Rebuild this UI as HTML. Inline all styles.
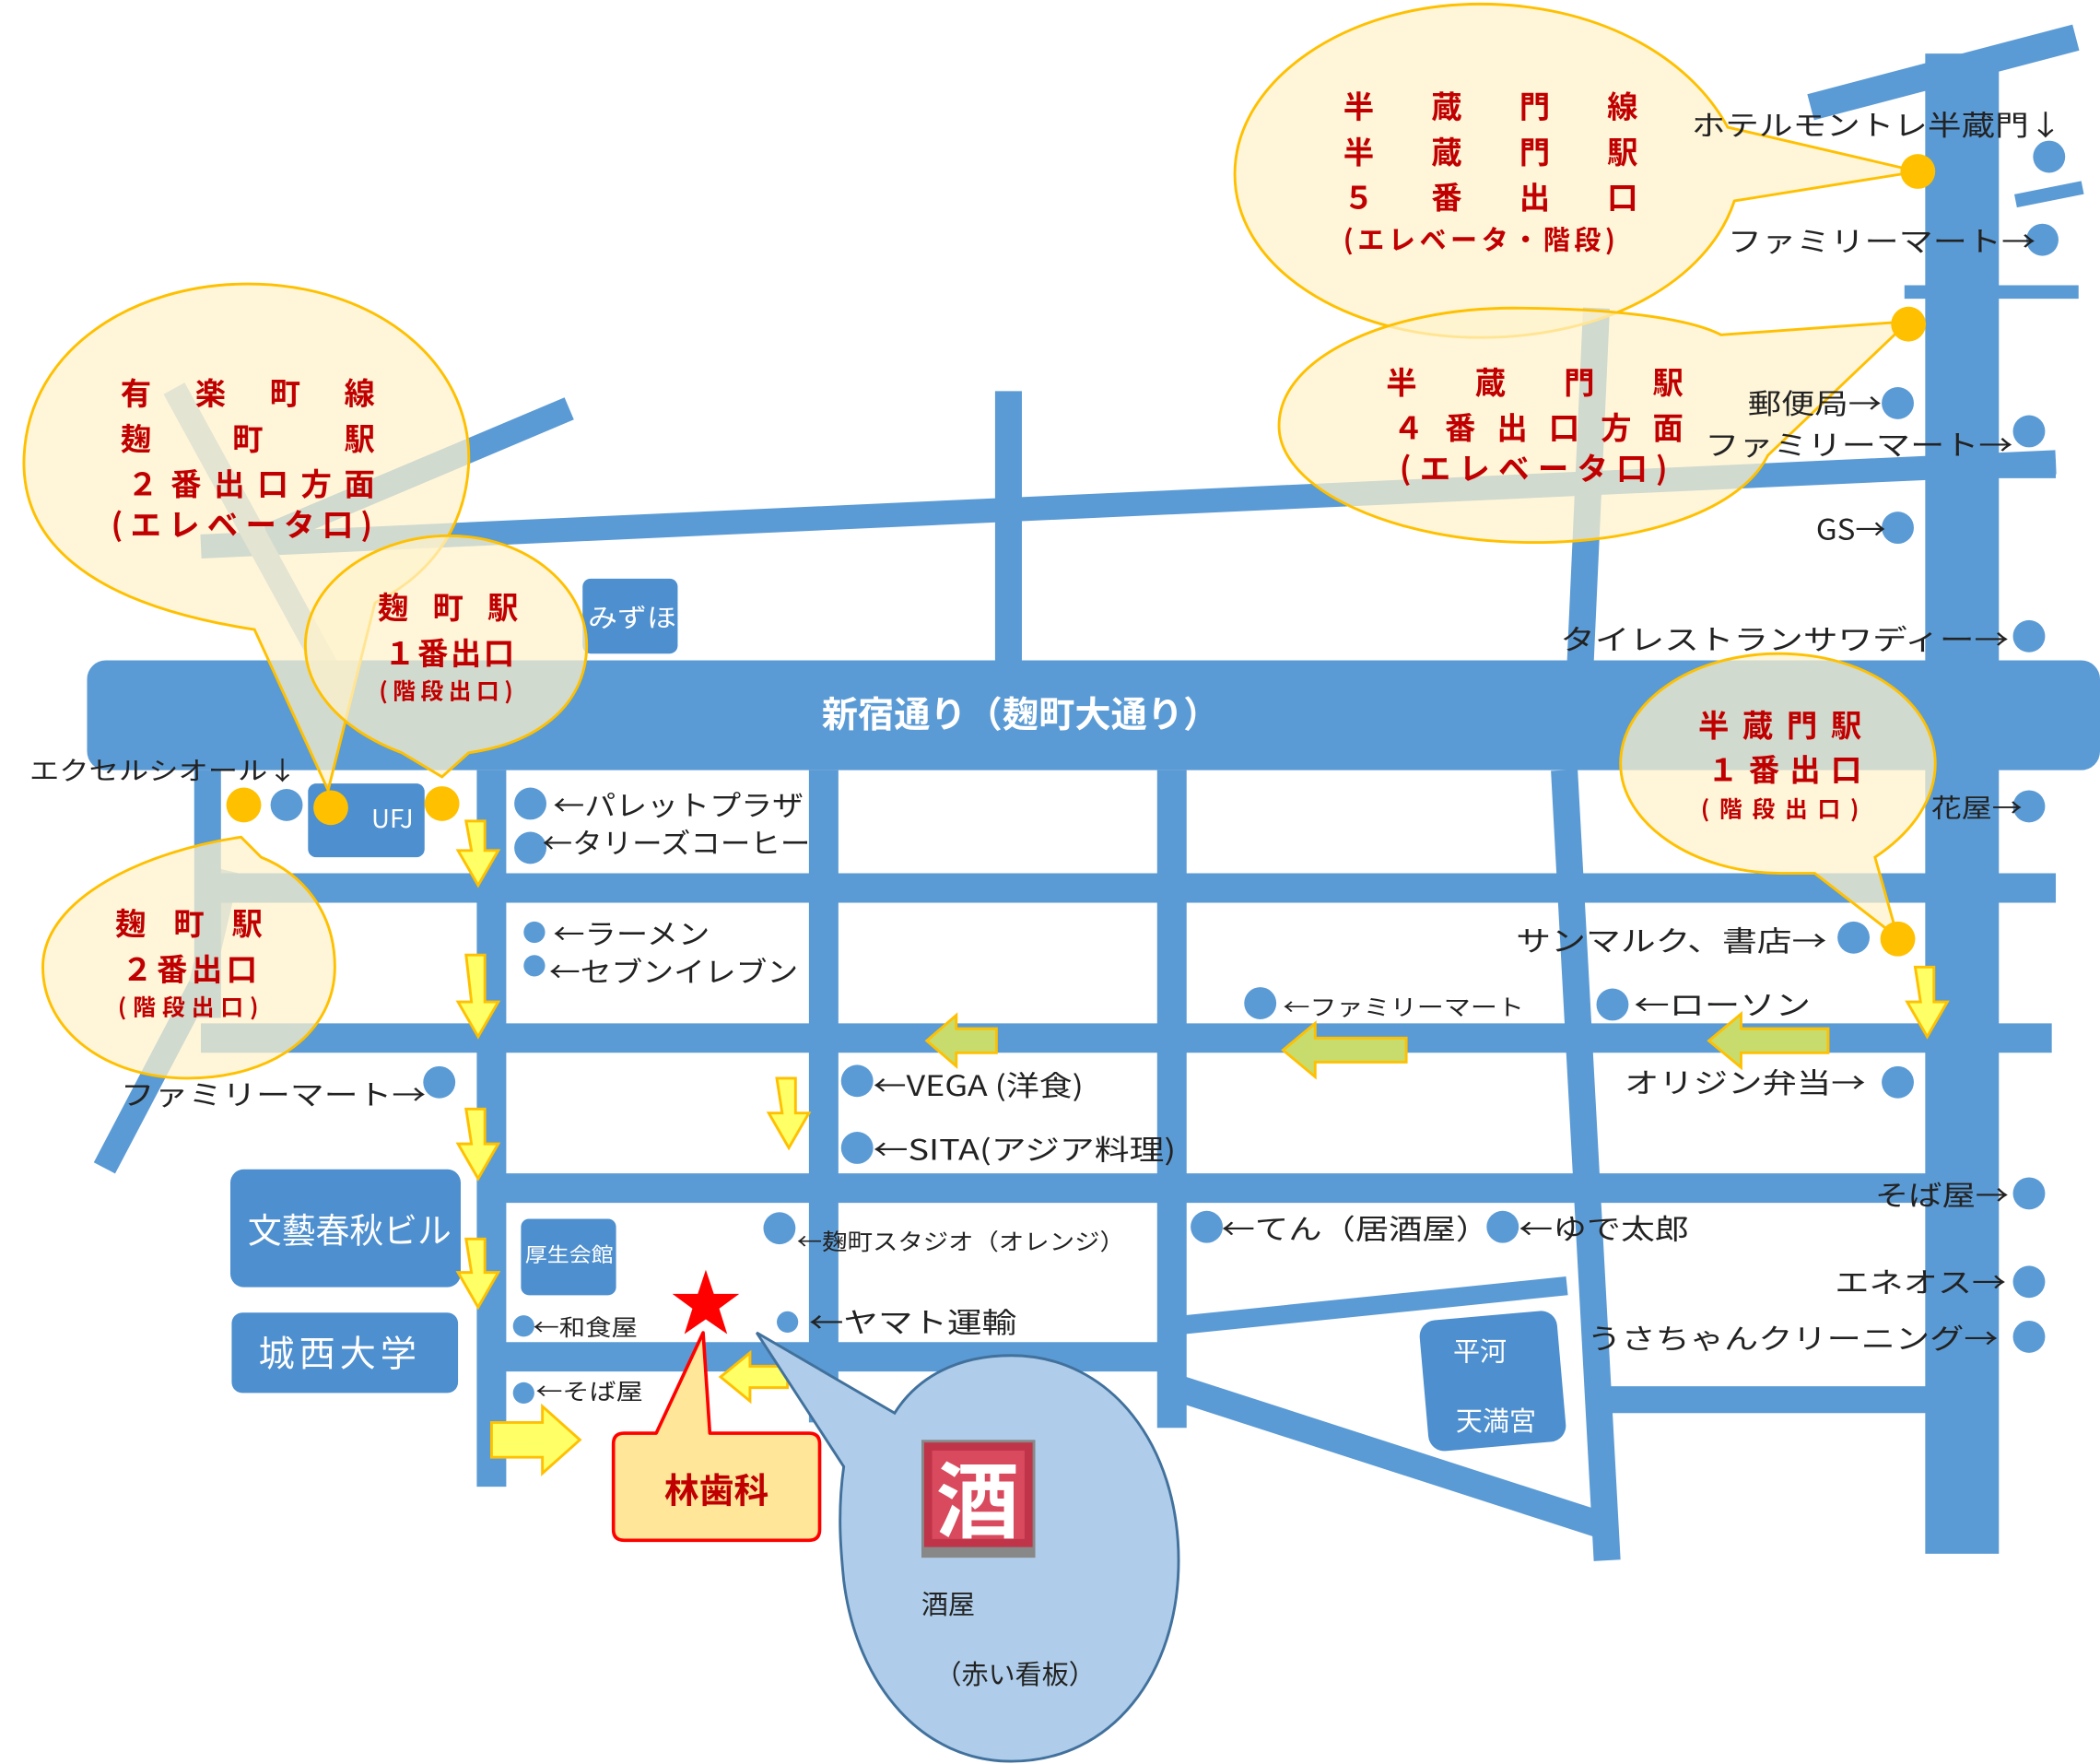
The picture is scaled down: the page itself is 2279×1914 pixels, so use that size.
<!DOCTYPE html>
<html><head><meta charset="utf-8"><style>
html,body{margin:0;padding:0;background:#fff;width:2279px;height:1914px;overflow:hidden}
svg{display:block}
text{font-family:"Noto Sans CJK JP","Liberation Sans",sans-serif}
.l{font-size:21px;fill:#222}
.s{font-size:17px;fill:#222}
.red{fill:#c00000;font-weight:bold}
.bal{fill:#fff2cc;fill-opacity:.72;stroke:#ffc000;stroke-width:2}
.arr{fill:#ffff66;stroke:#ffc000;stroke-width:2}
.harr{fill:#c8dc6e;stroke:#ffc000;stroke-width:2}
.dot{fill:#5b9bd5}
.yd{fill:#ffc000}
.bld{fill:#4d8fcf}
.w{fill:#fff}
</style></head><body>
<svg width="2279" height="1914" viewBox="0 0 1568 1317" preserveAspectRatio="none" xmlns="http://www.w3.org/2000/svg">
<rect width="1568" height="1317" fill="#fff"/>
<g stroke="#5b9bd5" stroke-linecap="butt" fill="none">
<line x1="150" y1="408" x2="1535" y2="345" stroke-width="18"/>
<line x1="200" y1="400" x2="425" y2="305" stroke-width="18"/>
<line x1="130" y1="290" x2="245" y2="500" stroke-width="18" stroke="#9bbfdf"/>
<line x1="78" y1="872" x2="150" y2="735" stroke-width="18"/>
<line x1="150" y1="735" x2="170" y2="650" stroke-width="18" stroke="#9bbfdf"/>
<line x1="753" y1="292" x2="753" y2="495" stroke-width="20"/>
<line x1="1192" y1="230" x2="1180" y2="495" stroke-width="20"/>
<line x1="1465" y1="40" x2="1465" y2="1160" stroke-width="55"/>
<line x1="1352" y1="80" x2="1550" y2="28" stroke-width="20"/>
<line x1="1505" y1="150" x2="1555" y2="140" stroke-width="10"/>
<line x1="1422" y1="218" x2="1552" y2="218" stroke-width="10"/>
<line x1="1440" y1="350" x2="1535" y2="350" stroke-width="14"/>
<line x1="150" y1="663" x2="1535" y2="663" stroke-width="22"/>
<line x1="150" y1="775" x2="1532" y2="775" stroke-width="22"/>
<line x1="367" y1="887" x2="1492" y2="887" stroke-width="22"/>
<line x1="367" y1="1013" x2="875" y2="1013" stroke-width="22"/>
<line x1="1190" y1="1045" x2="1492" y2="1045" stroke-width="20"/>
<line x1="155" y1="575" x2="155" y2="760" stroke-width="20"/>
<line x1="367" y1="575" x2="367" y2="1110" stroke-width="22"/>
<line x1="615" y1="575" x2="615" y2="1062" stroke-width="22"/>
<line x1="875" y1="575" x2="875" y2="1066" stroke-width="22"/>
<line x1="1168" y1="575" x2="1200" y2="1165" stroke-width="20"/>
<line x1="875" y1="1035" x2="1200" y2="1140" stroke-width="20"/>
<line x1="875" y1="990" x2="1170" y2="960" stroke-width="14"/>
</g>
<rect fill="#5b9bd5" x="65" y="493" width="1503" height="82" rx="14"/>
<text x="762" y="543" text-anchor="middle" font-size="27" font-weight="bold" fill="#fff">新宿通り（麹町大通り）</text>
<rect class="bld" x="435" y="432" width="71" height="56" rx="6"/><text x="439" y="468" font-size="19" class="w" textLength="66" lengthAdjust="spacingAndGlyphs">みずほ</text>
<rect class="bld" x="230" y="585" width="87" height="55" rx="6"/><text x="293" y="618" text-anchor="middle" font-size="19" class="w">UFJ</text>
<rect class="bld" x="172" y="873" width="172" height="88" rx="10"/><text x="185" y="928" font-size="26" class="w" textLength="152" lengthAdjust="spacingAndGlyphs">文藝春秋ビル</text>
<rect class="bld" x="173" y="980" width="169" height="60" rx="8"/><text x="193" y="1020" font-size="27" class="w" textLength="118">城西大学</text>
<rect class="bld" x="389" y="910" width="71" height="57" rx="6"/><text x="392" y="942" font-size="15" class="w" textLength="66" lengthAdjust="spacingAndGlyphs">厚生会館</text>
<rect class="bld" x="1063" y="982" width="103" height="98" rx="12" transform="rotate(-5 1115 1030)"/>
<text x="1105" y="1016" text-anchor="middle" font-size="20" class="w">平河</text>
<text x="1117" y="1068" text-anchor="middle" font-size="20" class="w">天満宮</text>
<path class="bal" d="M190,470 C60,450 15,400 18,340 C22,260 100,212 185,212 C280,212 352,270 350,345 C348,395 320,430 280,450 L245,590 Z"/>
<path class="bal" d="M330,580 L300,562 C255,545 228,515 228,482 C228,435 280,400 335,400 C395,400 440,440 438,485 C436,528 400,555 350,562 Z"/>
<path class="bal" d="M180,625 C110,635 32,670 32,722 C32,770 80,805 140,805 C205,805 250,770 250,722 C250,680 225,652 195,640 Z"/>
<path class="bal" d="M1295,150 L1432,128 L1290,95 C1260,40 1190,3 1105,3 C1005,3 922,60 922,130 C922,200 1005,252 1105,252 C1200,252 1275,210 1295,150 Z"/>
<path class="bal" d="M1285,250 L1425,240 L1320,340 C1300,380 1230,405 1145,405 C1040,405 955,365 955,318 C955,265 1040,230 1130,230 C1200,230 1260,237 1285,250 Z"/>
<path class="bal" d="M1355,652 L1417,700 L1400,640 C1430,620 1445,595 1445,570 C1445,525 1395,488 1328,488 C1262,488 1210,525 1210,570 C1210,615 1265,652 1330,652 Z"/>
<g font-size="23" class="red">
<text x="90" y="302" textLength="190" lengthAdjust="spacing">有楽町線</text>
<text x="90" y="336" textLength="190" lengthAdjust="spacing">麹町駅</text>
<text x="95" y="370" textLength="185" lengthAdjust="spacing">２番出口方面</text>
<text x="83" y="400" textLength="195" lengthAdjust="spacing">(エレベータ口)</text>
<text x="282" y="462" textLength="105" lengthAdjust="spacing">麹町駅</text>
<text x="287" y="496" textLength="97" lengthAdjust="spacing">１番出口</text>
<text x="283" y="522" font-size="17" textLength="100" lengthAdjust="spacing">(階段出口)</text>
<text x="86" y="698" textLength="110" lengthAdjust="spacing">麹町駅</text>
<text x="91" y="732" textLength="101" lengthAdjust="spacing">２番出口</text>
<text x="88" y="758" font-size="17" textLength="105" lengthAdjust="spacing">(階段出口)</text>
<text x="1003" y="88" textLength="220" lengthAdjust="spacing">半蔵門線</text>
<text x="1003" y="122" textLength="220" lengthAdjust="spacing">半蔵門駅</text>
<text x="1003" y="156" textLength="220" lengthAdjust="spacing">５番出口</text>
<text x="1003" y="186" font-size="20" textLength="203" lengthAdjust="spacing">(エレベータ・階段)</text>
<text x="1035" y="294" textLength="222" lengthAdjust="spacing">半蔵門駅</text>
<text x="1040" y="328" textLength="217" lengthAdjust="spacing">４番出口方面</text>
<text x="1045" y="358" textLength="200" lengthAdjust="spacing">(エレベータ口)</text>
<text x="1268" y="550" textLength="122" lengthAdjust="spacing">半蔵門駅</text>
<text x="1275" y="583" textLength="115" lengthAdjust="spacing">１番出口</text>
<text x="1270" y="610" font-size="17" textLength="118" lengthAdjust="spacing">(階段出口)</text>
</g>
<g>
<circle class="yd" cx="182" cy="601" r="13"/><circle class="dot" cx="214" cy="601" r="12"/><circle class="yd" cx="247" cy="603" r="13"/><circle class="yd" cx="330" cy="600" r="13"/>
<circle class="yd" cx="1432" cy="128" r="13"/><circle class="yd" cx="1425" cy="242" r="13"/><circle class="yd" cx="1417" cy="701" r="13"/>
<circle class="dot" cx="396" cy="600" r="12"/><circle class="dot" cx="396" cy="633" r="12"/>
<circle class="dot" cx="399" cy="696" r="8"/><circle class="dot" cx="399" cy="721" r="8"/>
<circle class="dot" cx="328" cy="808" r="12"/>
<circle class="dot" cx="640" cy="807" r="12"/><circle class="dot" cx="640" cy="857" r="12"/>
<circle class="dot" cx="582" cy="917" r="12"/><circle class="dot" cx="588" cy="987" r="8"/>
<circle class="dot" cx="391" cy="990" r="8"/><circle class="dot" cx="391" cy="1040" r="8"/>
<circle class="dot" cx="941" cy="749" r="12"/><circle class="dot" cx="1204" cy="750" r="12"/>
<circle class="dot" cx="901" cy="916" r="12"/><circle class="dot" cx="1122" cy="916" r="12"/>
<circle class="dot" cx="1530" cy="117" r="12"/><circle class="dot" cx="1525" cy="179" r="12"/>
<circle class="dot" cx="1417" cy="301" r="12"/><circle class="dot" cx="1515" cy="322" r="12"/>
<circle class="dot" cx="1417" cy="394" r="12"/><circle class="dot" cx="1515" cy="475" r="12"/>
<circle class="dot" cx="1515" cy="602" r="12"/><circle class="dot" cx="1384" cy="700" r="12"/>
<circle class="dot" cx="1417" cy="808" r="12"/><circle class="dot" cx="1515" cy="891" r="12"/>
<circle class="dot" cx="1515" cy="957" r="12"/><circle class="dot" cx="1515" cy="998" r="12"/>
</g>
<g class="l">
<text x="22" y="582" font-size="19" textLength="200" lengthAdjust="spacingAndGlyphs">エクセルシオール↓</text>
<text x="413" y="609" textLength="187" lengthAdjust="spacingAndGlyphs">←パレットプラザ</text>
<text x="405" y="637" textLength="200" lengthAdjust="spacingAndGlyphs">←タリーズコーヒー</text>
<text x="413" y="705" textLength="117" lengthAdjust="spacingAndGlyphs">←ラーメン</text>
<text x="410" y="733" textLength="186" lengthAdjust="spacingAndGlyphs">←セブンイレブン</text>
<text x="90" y="825" textLength="228" lengthAdjust="spacingAndGlyphs">ファミリーマート→</text>
<text x="652" y="818" textLength="157" lengthAdjust="spacingAndGlyphs">←VEGA (洋食)</text>
<text x="652" y="866" textLength="226" lengthAdjust="spacingAndGlyphs">←SITA(アジア料理)</text>
<text x="595" y="933" class="s" textLength="245" lengthAdjust="spacingAndGlyphs">←麹町スタジオ（オレンジ）</text>
<text x="604" y="995" textLength="155" lengthAdjust="spacingAndGlyphs">←ヤマト運輸</text>
<text x="398" y="997" class="s" textLength="78" lengthAdjust="spacingAndGlyphs">←和食屋</text>
<text x="400" y="1045" class="s" textLength="80" lengthAdjust="spacingAndGlyphs">←そば屋</text>
<text x="958" y="758" class="s" textLength="180" lengthAdjust="spacingAndGlyphs">←ファミリーマート</text>
<text x="1220" y="758" textLength="132" lengthAdjust="spacingAndGlyphs">←ローソン</text>
<text x="912" y="925" textLength="200" lengthAdjust="spacingAndGlyphs">←てん（居酒屋）</text>
<text x="1134" y="925" textLength="127" lengthAdjust="spacingAndGlyphs">←ゆで太郎</text>
<text x="1263" y="101" textLength="277" lengthAdjust="spacingAndGlyphs">ホテルモントレ半蔵門↓</text>
<text x="1290" y="188" textLength="230" lengthAdjust="spacingAndGlyphs">ファミリーマート→</text>
<text x="1305" y="309" textLength="100" lengthAdjust="spacingAndGlyphs">郵便局→</text>
<text x="1273" y="340" textLength="230" lengthAdjust="spacingAndGlyphs">ファミリーマート→</text>
<text x="1356" y="403" textLength="52" lengthAdjust="spacingAndGlyphs">GS→</text>
<text x="1165" y="485" textLength="335" lengthAdjust="spacingAndGlyphs">タイレストランサワディー→</text>
<text x="1442" y="610" font-size="19" textLength="68" lengthAdjust="spacingAndGlyphs">花屋→</text>
<text x="1132" y="710" textLength="232" lengthAdjust="spacingAndGlyphs">サンマルク、書店→</text>
<text x="1213" y="816" textLength="180" lengthAdjust="spacingAndGlyphs">オリジン弁当→</text>
<text x="1400" y="900" textLength="100" lengthAdjust="spacingAndGlyphs">そば屋→</text>
<text x="1370" y="965" textLength="128" lengthAdjust="spacingAndGlyphs">エネオス→</text>
<text x="1185" y="1007" textLength="307" lengthAdjust="spacingAndGlyphs">うさちゃんクリーニング→</text>
</g>
<g class="arr">
<path d="M348,613 h14 v22 h10 l-15,26 l-15,-26 h10 z"/>
<path d="M348,713 h14 v35 h10 l-15,26 l-15,-26 h10 z"/>
<path d="M348,828 h14 v26 h10 l-15,26 l-15,-26 h10 z"/>
<path d="M348,925 h14 v25 h10 l-15,26 l-15,-26 h10 z"/>
<path d="M580,805 h14 v26 h10 l-15,26 l-15,-26 h10 z"/>
<path d="M1430,722 h14 v26 h10 l-15,26 l-15,-26 h10 z"/>
<path d="M367,1062 h38 v-12 l28,25 l-28,25 v-12 h-38 z"/>
<path d="M588,1020 v16 h-28 v10 l-22,-18 l22,-18 v10 z"/>
</g>
<g class="harr">
<path d="M744,768 v18 h-30 v10 l-22,-19 l22,-19 v10 z"/>
<path d="M1050,775 v18 h-68 v11 l-24,-20 l24,-20 v11 z"/>
<path d="M1365,768 v18 h-65 v11 l-24,-20 l24,-20 v11 z"/>
</g>
<path d="M668,1055 L565,995 L630,1095 C625,1130 628,1160 630,1180 C640,1260 690,1315 755,1315 C830,1315 880,1250 880,1165 C880,1080 830,1012 755,1012 C715,1012 685,1028 668,1055 Z" fill="#afcdea" stroke="#41719c" stroke-width="2"/>
<rect x="688" y="1075" width="85" height="88" fill="#888"/>
<rect x="690" y="1077" width="81" height="78" fill="#c0344a"/>
<rect x="696" y="1083" width="69" height="66" fill="#d94a5e"/>
<text x="730" y="1143" text-anchor="middle" font-size="62" fill="#fff" font-weight="bold">酒</text>
<text x="688" y="1205" font-size="20" fill="#222">酒屋</text>
<text x="698" y="1257" font-size="20" fill="#222">（赤い看板）</text>
<path d="M525,995 L490,1070 L466,1070 Q458,1070 458,1078 L458,1142 Q458,1150 466,1150 L604,1150 Q612,1150 612,1142 L612,1078 Q612,1070 604,1070 L530,1070 Z" fill="#ffe699" stroke="#ff0000" stroke-width="2.5" stroke-linejoin="round"/>
<text x="535" y="1122" text-anchor="middle" font-size="26" font-weight="bold" fill="#c00000">林歯科</text>
<path d="M527,948 L533,966 L552,966 L537,977 L543,996 L527,985 L511,996 L517,977 L502,966 L521,966 Z" fill="#ff0000"/>
</svg>
</body></html>
